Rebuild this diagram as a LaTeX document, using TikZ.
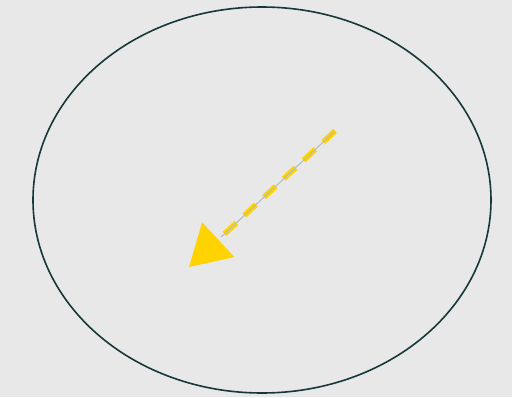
\documentclass[tikz,border=0pt]{standalone}
\usepackage{tikz}
\usetikzlibrary{arrows.meta}
\definecolor{bgcol}{HTML}{E8E8E8}
\definecolor{rimcol}{HTML}{173838}
\definecolor{arrowcol}{HTML}{FFD200}
\definecolor{corecol}{HTML}{B4BCBC}
\begin{document}
\begin{tikzpicture}[x=1pt, y=-1pt,
    rim/.style={draw=rimcol, line width=1.6pt},
    yellowarr/.style={arrowcol, line width=5.5pt, dash pattern=on 16pt off 11pt,
                      -{Triangle[length=40pt, width=46pt]}},
    core/.style={corecol, line width=1pt, shorten >=44pt}
  ]
  % Background
  \fill[bgcol] (0,0) rectangle (512,397);
  \useasboundingbox (0,0) rectangle (512,397);

  % Ellipse
  \draw[rim] (262,200) ellipse [x radius=229, y radius=193];

  % Arrow
  \coordinate (start) at (335,131);
  \coordinate (tip) at (189,267);
  \draw[yellowarr] (start) -- (tip);
  \draw[core] (start) -- (tip);
\end{tikzpicture}
\end{document}
